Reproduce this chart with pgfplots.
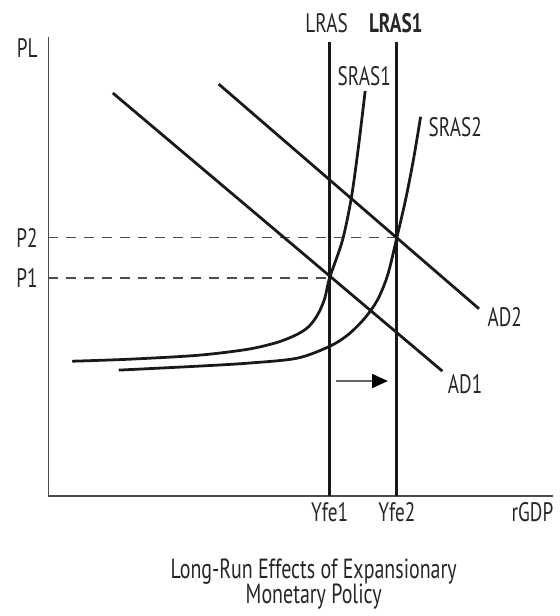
\documentclass[border=0pt]{standalone}
\usepackage{fontspec}
\setmainfont{PT Sans}[FakeStretch=0.72]
\usepackage{pgfplots}
\pgfplotsset{compat=1.18}
\usetikzlibrary{arrows.meta}

% SRAS curves
\pgfplotstableread{
x y
24 136
81 138
151 142
201 148
231 155
251 163
263 171
272 183
279 199
284 220
297 258
306 301
313 351
320 409
}\srasone
\pgfplotstableread{
x y
71 127
151 131
201 134
251 139
284 151
303 163
320 180
333 199
343 224
352 261
361 300
369 341
376 383
}\srastwo

\tikzset{lbl/.style={font=\fontsize{13.5}{15}\selectfont, text=black!85}}

\begin{document}
\begin{tikzpicture}
\begin{axis}[
  scale only axis,
  width=255pt, height=232pt,
  xmin=0, xmax=510, ymin=0, ymax=464,
  axis lines=left,
  axis line style={-, line width=1pt, draw=black!70},
  xtick={284,352,489}, xticklabels={Yfe1,Yfe2,rGDP},
  ytick={220,261,452}, yticklabels={P1,P2,PL},
  major tick length=0pt,
  xticklabel style={font=\fontsize{13.5}{15}\selectfont, text=black!85},
  yticklabel style={font=\fontsize{13.5}{15}\selectfont, text=black!85, xshift=-2pt},
  clip=false,
]
% dashed price levels
\addplot[black!70, line width=0.75pt, dash pattern=on 5pt off 4pt] coordinates {(0,261) (352,261)};
\addplot[black!70, line width=0.75pt, dash pattern=on 5pt off 4pt] coordinates {(0,220) (284,220)};
% LRAS
\addplot[black!90, line width=1.4pt] coordinates {(284,0) (284,459)};
\addplot[black!90, line width=1.4pt] coordinates {(352,0) (352,459)};
% AD
\addplot[black!90, line width=1.4pt] coordinates {(65,407) (398,126)};
\addplot[black!90, line width=1.4pt] coordinates {(172,416) (435,189)};
% SRAS
\addplot[black!90, line width=1.4pt, smooth] table {\srasone};
\addplot[black!90, line width=1.4pt, smooth] table {\srastwo};
% shift arrow
\addplot[black!60, line width=1pt, -{Triangle[length=8pt,width=7pt,fill=black,color=black]}] coordinates {(291,116) (343,116)};

\node[lbl] at (axis cs:281,478) {LRAS};
\node[lbl] at (axis cs:351,478) {\bfseries LRAS1};
\node[lbl] at (axis cs:319,424) {SRAS1};
\node[lbl] at (axis cs:411,373) {SRAS2};
\node[lbl] at (axis cs:461,181) {AD2};
\node[lbl] at (axis cs:421,113) {AD1};
\node[lbl, font=\fontsize{14}{15}\selectfont] at (axis cs:268,-77) {Long-Run Effects of Expansionary};
\node[lbl, font=\fontsize{14}{15}\selectfont] at (axis cs:268,-102) {Monetary Policy};
\path (axis cs:-49,-115) rectangle (axis cs:513,501);
\end{axis}
\end{tikzpicture}
\end{document}
